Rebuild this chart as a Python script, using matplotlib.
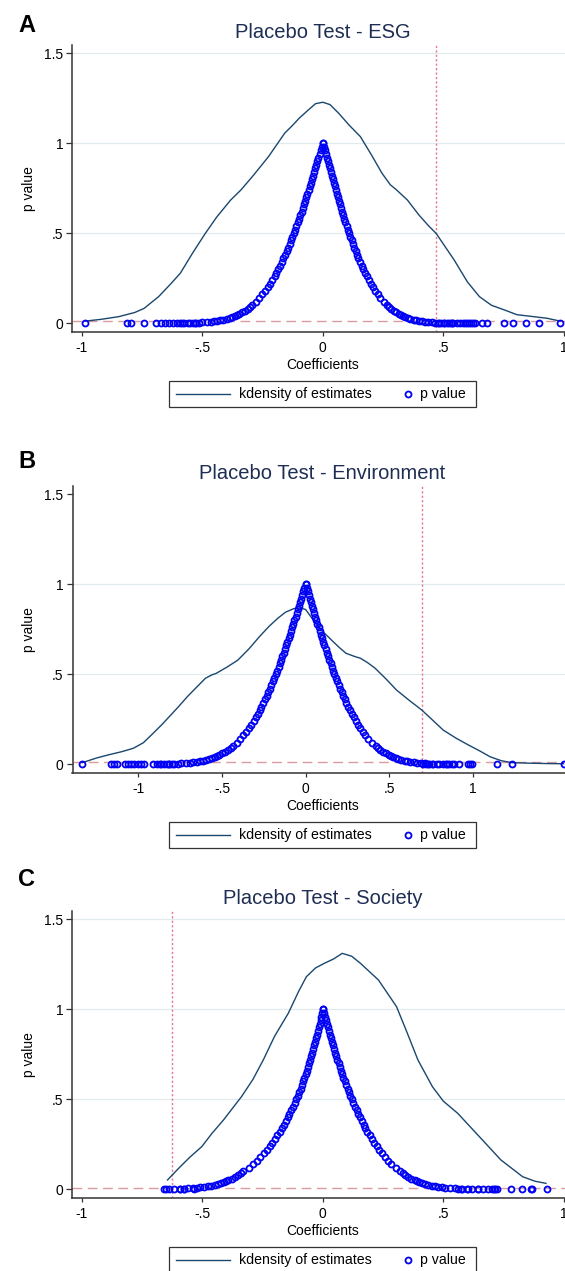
"""Placebo test figure: kernel density of placebo estimates plus their p values.

Three stacked panels (ESG, Environment, Society) in the Stata s2color look.
Values are read off the published figure.
"""
import matplotlib

matplotlib.use("Agg")
import matplotlib.pyplot as plt
from matplotlib.lines import Line2D
from matplotlib.patches import Rectangle

plt.rcParams["font.family"] = ["Liberation Sans", "DejaVu Sans"]

# --------------------------------------------------------------------------- #
# Data
# --------------------------------------------------------------------------- #
# p value levels shared by the left / right arms of every panel
p_levels = [
    1.00, 0.98, 0.96, 0.94, 0.92, 0.90, 0.88, 0.86, 0.84, 0.82,
    0.80, 0.78, 0.76, 0.74, 0.72, 0.70, 0.68, 0.66, 0.64, 0.62,
    0.60, 0.58, 0.56, 0.54, 0.52, 0.50, 0.48, 0.46, 0.44, 0.42,
    0.40, 0.38, 0.36, 0.34, 0.32, 0.30, 0.28, 0.26, 0.24, 0.22,
    0.20, 0.18, 0.16, 0.14, 0.12, 0.10, 0.09, 0.08, 0.07, 0.06,
    0.05, 0.045, 0.04, 0.035, 0.03, 0.025, 0.02, 0.017, 0.014, 0.011,
    0.009, 0.007, 0.005, 0.004, 0.003, 0.002, 0.001,
]

# ---- A: ESG ----
esg_kd_x = [-0.986, -0.92, -0.846, -0.78, -0.741, -0.681, -0.63, -0.591, -0.54, -0.487,
            -0.44, -0.382, -0.34, -0.292, -0.225, -0.158, -0.125, -0.098, -0.06, -0.03,
            0.0, 0.03, 0.066, 0.11, 0.156, 0.20, 0.246, 0.28, 0.306, 0.351,
            0.40, 0.44, 0.470, 0.545, 0.60, 0.650, 0.70, 0.754, 0.805, 0.874,
            0.93, 0.986]
esg_kd_y = [0.012, 0.022, 0.037, 0.06, 0.083, 0.148, 0.22, 0.278, 0.39, 0.50,
            0.59, 0.685, 0.74, 0.815, 0.926, 1.056, 1.10, 1.139, 1.185, 1.22,
            1.228, 1.215, 1.167, 1.10, 1.037, 0.94, 0.833, 0.77, 0.741, 0.685,
            0.60, 0.54, 0.50, 0.352, 0.23, 0.148, 0.10, 0.074, 0.048, 0.037,
            0.028, 0.012]
esg_left_x = [
    0.0, -0.004, -0.009, -0.013, -0.018, -0.022, -0.027, -0.031, -0.036, -0.040,
    -0.045, -0.050, -0.054, -0.059, -0.064, -0.069, -0.073, -0.078, -0.083, -0.088,
    -0.093, -0.099, -0.104, -0.109, -0.115, -0.120, -0.126, -0.132, -0.137, -0.144,
    -0.150, -0.156, -0.163, -0.170, -0.177, -0.184, -0.192, -0.200, -0.209, -0.218,
    -0.228, -0.239, -0.250, -0.263, -0.277, -0.293, -0.302, -0.312, -0.323, -0.335,
    -0.349, -0.357, -0.366, -0.375, -0.386, -0.399, -0.414, -0.425, -0.437, -0.453,
    -0.465, -0.480, -0.500, -0.512, -0.528, -0.550, -0.586,
]
esg_right_x = [
    0.0, 0.004, 0.008, 0.012, 0.016, 0.020, 0.024, 0.029, 0.033, 0.037,
    0.041, 0.045, 0.049, 0.054, 0.058, 0.062, 0.067, 0.071, 0.076, 0.080,
    0.085, 0.090, 0.094, 0.099, 0.104, 0.109, 0.114, 0.120, 0.125, 0.131,
    0.136, 0.142, 0.148, 0.155, 0.161, 0.168, 0.175, 0.182, 0.190, 0.199,
    0.208, 0.217, 0.228, 0.239, 0.252, 0.266, 0.275, 0.284, 0.294, 0.305,
    0.318, 0.325, 0.333, 0.342, 0.352, 0.363, 0.377, 0.387, 0.398, 0.412,
    0.423, 0.437, 0.455, 0.466, 0.481, 0.501, 0.533,
]
esg_tail = [(-0.988, 0.0), (-0.812, 0.0), (-0.795, 0.0), (-0.741, 0.0), (-0.690, 0.0),
            (-0.673, 0.0), (-0.655, 0.0), (-0.637, 0.0), (-0.621, 0.0), (-0.606, 0.0),
            (-0.591, 0.0), (-0.574, 0.0), (-0.558, 0.0), (-0.540, 0.0), (-0.524, 0.0),
            (0.480, 0.0), (0.490, 0.0), (0.503, 0.0), (0.515, 0.0), (0.525, 0.0),
            (0.535, 0.0), (0.542, 0.0), (0.555, 0.0), (0.570, 0.0), (0.580, 0.0),
            (0.590, 0.0), (0.600, 0.0), (0.608, 0.0), (0.617, 0.0), (0.625, 0.0),
            (0.632, 0.0), (0.660, 0.0), (0.683, 0.0), (0.751, 0.0), (0.790, 0.0),
            (0.845, 0.0), (0.897, 0.0), (0.985, 0.0)]
esg_true_coef = 0.470

# ---- B: Environment ----
env_kd_x = [-1.336, -1.25, -1.181, -1.10, -1.030, -0.97, -0.922, -0.86, -0.815, -0.76,
            -0.707, -0.65, -0.599, -0.56, -0.535, -0.47, -0.405, -0.34, -0.276, -0.22,
            -0.168, -0.12, -0.07, -0.03, 0.0, 0.047, 0.10, 0.155, 0.20, 0.241,
            0.29, 0.328, 0.37, 0.414, 0.48, 0.543, 0.62, 0.694, 0.76, 0.823,
            0.90, 0.974, 1.04, 1.103, 1.17, 1.233, 1.35, 1.45, 1.542]
env_kd_y = [0.009, 0.035, 0.052, 0.07, 0.089, 0.12, 0.163, 0.22, 0.265, 0.32,
            0.376, 0.43, 0.478, 0.497, 0.505, 0.54, 0.579, 0.64, 0.709, 0.765,
            0.81, 0.845, 0.865, 0.868, 0.86, 0.80, 0.74, 0.69, 0.65, 0.617,
            0.60, 0.589, 0.565, 0.535, 0.475, 0.413, 0.355, 0.302, 0.245, 0.19,
            0.145, 0.107, 0.075, 0.042, 0.02, 0.009, 0.006, 0.004, 0.003]
env_left_x = [
    0.0, -0.007, -0.013, -0.020, -0.027, -0.033, -0.040, -0.047, -0.054, -0.060,
    -0.067, -0.074, -0.081, -0.088, -0.095, -0.102, -0.109, -0.117, -0.124, -0.131,
    -0.139, -0.147, -0.154, -0.162, -0.171, -0.179, -0.187, -0.196, -0.205, -0.214,
    -0.223, -0.233, -0.243, -0.253, -0.264, -0.275, -0.286, -0.299, -0.311, -0.325,
    -0.340, -0.355, -0.372, -0.391, -0.412, -0.436, -0.449, -0.464, -0.480, -0.498,
    -0.519, -0.531, -0.544, -0.559, -0.575, -0.594, -0.616, -0.632, -0.651, -0.674,
    -0.692, -0.715, -0.744, -0.763, -0.786, -0.819, -0.872,
]
env_right_x = [
    0.0, 0.006, 0.013, 0.019, 0.026, 0.032, 0.039, 0.045, 0.051, 0.058,
    0.065, 0.071, 0.078, 0.085, 0.091, 0.098, 0.105, 0.112, 0.119, 0.126,
    0.134, 0.141, 0.149, 0.156, 0.164, 0.172, 0.180, 0.188, 0.197, 0.206,
    0.215, 0.224, 0.233, 0.243, 0.254, 0.264, 0.275, 0.287, 0.300, 0.313,
    0.327, 0.342, 0.358, 0.376, 0.396, 0.419, 0.432, 0.446, 0.462, 0.480,
    0.500, 0.511, 0.524, 0.538, 0.553, 0.572, 0.593, 0.609, 0.627, 0.648,
    0.666, 0.688, 0.716, 0.734, 0.757, 0.788, 0.839,
]
env_tail = [(-1.338, 0.0), (-1.162, 0.0), (-1.145, 0.0), (-1.128, 0.0), (-1.080, 0.0),
            (-1.062, 0.0), (-1.045, 0.0), (-1.025, 0.0), (-1.005, 0.0), (-0.985, 0.0),
            (-0.967, 0.0), (-0.911, 0.0), (-0.887, 0.0), (-0.862, 0.0), (-0.845, 0.0),
            (-0.830, 0.0), (-0.815, 0.0), (-0.800, 0.0),
            (0.700, 0.0), (0.720, 0.0), (0.740, 0.0), (0.760, 0.0), (0.800, 0.0),
            (0.820, 0.0), (0.845, 0.0), (0.860, 0.0), (0.875, 0.0), (0.888, 0.0),
            (0.920, 0.0), (0.974, 0.0), (0.985, 0.0), (0.995, 0.0), (1.147, 0.0),
            (1.233, 0.0), (1.545, 0.0)]
env_true_coef = 0.694

# ---- C: Society ----
soc_kd_x = [-0.644, -0.591, -0.55, -0.502, -0.46, -0.412, -0.337, -0.29, -0.247, -0.2,
            -0.143, -0.10, -0.068, -0.03, 0.007, 0.045, 0.081, 0.12, 0.156, 0.231,
            0.306, 0.35, 0.395, 0.455, 0.50, 0.56, 0.65, 0.739, 0.829, 0.88,
            0.926]
soc_kd_y = [0.052, 0.126, 0.18, 0.237, 0.31, 0.385, 0.515, 0.61, 0.718, 0.85,
            0.978, 1.10, 1.181, 1.23, 1.256, 1.28, 1.311, 1.295, 1.256, 1.163,
            1.015, 0.87, 0.718, 0.57, 0.49, 0.422, 0.292, 0.163, 0.07, 0.045,
            0.033]
soc_left_x = [
    0.0, -0.003, -0.006, -0.009, -0.013, -0.016, -0.020, -0.023, -0.027, -0.031,
    -0.035, -0.039, -0.043, -0.047, -0.052, -0.056, -0.061, -0.066, -0.071, -0.076,
    -0.081, -0.087, -0.092, -0.098, -0.104, -0.111, -0.117, -0.124, -0.131, -0.138,
    -0.146, -0.153, -0.162, -0.170, -0.179, -0.189, -0.199, -0.209, -0.220, -0.232,
    -0.245, -0.259, -0.273, -0.290, -0.308, -0.329, -0.339, -0.350, -0.362, -0.376,
    -0.392, -0.401, -0.411, -0.422, -0.434, -0.448, -0.465, -0.477, -0.491, -0.509,
    -0.522, -0.539, -0.561, -0.576, -0.594, -0.618, -0.658,
]
soc_right_x = [
    0.0, 0.004, 0.008, 0.012, 0.016, 0.020, 0.025, 0.029, 0.033, 0.038,
    0.042, 0.047, 0.052, 0.056, 0.061, 0.066, 0.071, 0.076, 0.081, 0.086,
    0.092, 0.097, 0.103, 0.109, 0.115, 0.121, 0.127, 0.133, 0.140, 0.147,
    0.154, 0.161, 0.169, 0.177, 0.185, 0.194, 0.203, 0.212, 0.223, 0.233,
    0.245, 0.257, 0.271, 0.285, 0.302, 0.321, 0.331, 0.341, 0.353, 0.367,
    0.382, 0.391, 0.400, 0.411, 0.423, 0.437, 0.454, 0.465, 0.479, 0.496,
    0.509, 0.526, 0.547, 0.561, 0.579, 0.603, 0.642,
]
soc_tail = [(-0.651, 0.0), (-0.636, 0.0), (-0.591, 0.0), (-0.577, 0.0), (-0.534, 0.0),
            (0.575, 0.0), (0.597, 0.0), (0.620, 0.0), (0.642, 0.0), (0.665, 0.0),
            (0.687, 0.0), (0.700, 0.0), (0.709, 0.0), (0.716, 0.0), (0.724, 0.0),
            (0.781, 0.0), (0.826, 0.0), (0.862, 0.0), (0.866, 0.0), (0.931, 0.0)]
soc_true_coef = -0.624

x_ticks = [-1, -0.5, 0, 0.5, 1]
x_tick_labels = ["-1", "-.5", "0", ".5", "1"]
y_ticks = [0, 0.5, 1, 1.5]
y_tick_labels = ["0", ".5", "1", "1.5"]
p_cutoff = 0.01

# --------------------------------------------------------------------------- #
# Style / layout (pixels of the 565 x 1271 output)
# --------------------------------------------------------------------------- #
W, H = 565, 1271
KD_COLOR = "#1a476f"
PT_COLOR = "#0000f5"
VLINE_COLOR = "#e8768c"
HLINE_COLOR = "#d99aa3"
GRID_COLOR = "#e1eaee"
TITLE_COLOR = "#1e2d53"
AXIS_COLOR = "#333333"
MS, MEW = 4.3, 1.3

PANELS = [
    dict(letter="A", title="Placebo Test - ESG", box=(72.3, 45.0, 572.5, 332.3),
         xlim=(-1.039, 1.036), ylim=(-0.05, 1.546), grid=[0.5, 1, 1.5],
         kd=(esg_kd_x, esg_kd_y), arms=(esg_left_x, esg_right_x), tail=esg_tail,
         vline=esg_true_coef, letter_y=25.0),
    dict(letter="B", title="Placebo Test - Environment", box=(72.5, 486.0, 572.5, 773.3),
         xlim=(-1.394, 1.596), ylim=(-0.05, 1.546), grid=[0.5, 1],
         kd=(env_kd_x, env_kd_y), arms=(env_left_x, env_right_x), tail=env_tail,
         vline=env_true_coef, letter_y=461.0),
    dict(letter="C", title="Placebo Test - Society", box=(72.3, 910.7, 572.5, 1198.3),
         xlim=(-1.039, 1.036), ylim=(-0.05, 1.548), grid=[0.5, 1, 1.5],
         kd=(soc_kd_x, soc_kd_y), arms=(soc_left_x, soc_right_x), tail=soc_tail,
         vline=soc_true_coef, letter_y=880.0),
]


def fx(x):
    return x / W


def fy(y):
    return 1 - y / H


def scatter_pts(ax, xs, ys):
    ax.plot(xs, ys, ls="none", marker="o", ms=MS, mfc="none", mec=PT_COLOR,
            mew=MEW, zorder=3, clip_on=False)


def draw_legend(fig, top):
    h = 25.5
    cy = top + h / 2
    fig.add_artist(Rectangle((fx(169.3), fy(top + h)), (476 - 169.3) / W, h / H,
                             transform=fig.transFigure, fill=False,
                             ec=AXIS_COLOR, lw=0.9))
    fig.add_artist(Line2D([fx(176), fx(230)], [fy(cy), fy(cy)],
                          transform=fig.transFigure, color=KD_COLOR, lw=1.0))
    fig.add_artist(Line2D([fx(408)], [fy(cy)], transform=fig.transFigure,
                          ls="none", marker="o", ms=MS, mfc="none",
                          mec=PT_COLOR, mew=MEW))
    fig.text(fx(239), fy(cy), "kdensity of estimates", ha="left", va="center",
             fontsize=10.2)
    fig.text(fx(420), fy(cy), "p value", ha="left", va="center", fontsize=10.2)


def draw_panel(fig, spec):
    l, t, r, b = spec["box"]
    ax = fig.add_axes([fx(l), fy(b), (r - l) / W, (b - t) / H])
    ax_h = b - t

    for g in spec["grid"]:
        ax.axhline(g, color=GRID_COLOR, lw=0.9, zorder=0)
    ax.axhline(p_cutoff, color=HLINE_COLOR, lw=1.0, ls=(0, (7, 4)), zorder=1)
    ax.axvline(spec["vline"], color=VLINE_COLOR, lw=1.0, ls=(0, (1.6, 1.6)), zorder=1)

    kd_x, kd_y = spec["kd"]
    ax.plot(kd_x, kd_y, color=KD_COLOR, lw=1.0, zorder=2)
    left_x, right_x = spec["arms"]
    scatter_pts(ax, left_x, p_levels)
    scatter_pts(ax, right_x, p_levels)
    tail_x = [pt[0] for pt in spec["tail"]]
    tail_p = [pt[1] for pt in spec["tail"]]
    scatter_pts(ax, tail_x, tail_p)

    ax.set_xlim(*spec["xlim"])
    ax.set_ylim(*spec["ylim"])
    ax.set_xticks(x_ticks, x_tick_labels)
    ax.set_yticks(y_ticks, y_tick_labels)
    for side in ("top", "right"):
        ax.spines[side].set_visible(False)
    for side in ("left", "bottom"):
        ax.spines[side].set_color(AXIS_COLOR)
        ax.spines[side].set_linewidth(1.1)
    ax.tick_params(axis="y", direction="out", length=4.1, width=0.9,
                   color=AXIS_COLOR, labelsize=10, pad=2.4)
    ax.tick_params(axis="x", direction="out", length=3.1, width=0.9,
                   color=AXIS_COLOR, labelsize=10, pad=3.5)

    ax.text(0.5, 1 + 7 / ax_h, spec["title"], transform=ax.transAxes,
            ha="center", va="baseline", fontsize=14.5, color=TITLE_COLOR)
    ax.text(0.5, -36.7 / ax_h, "Coefficients", transform=ax.transAxes,
            ha="center", va="baseline", fontsize=10)
    ax.text((29.5 - l) / (r - l), 0.5, "p value", transform=ax.transAxes,
            ha="center", va="center", rotation=90, fontsize=10)
    fig.text(fx(26.5), fy(spec["letter_y"]), spec["letter"], ha="center",
             va="center", fontsize=17, fontweight="bold")
    draw_legend(fig, b + 49)


def main():
    fig = plt.figure(figsize=(W / 100, H / 100), dpi=100)
    for spec in PANELS:
        draw_panel(fig, spec)
    fig.savefig("out.png", dpi=100)
    plt.close(fig)


if __name__ == "__main__":
    main()
